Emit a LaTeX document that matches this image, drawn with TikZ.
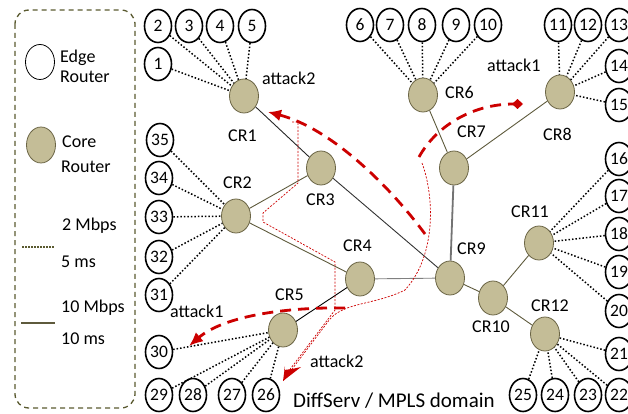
\documentclass[tikz,border=0pt]{standalone}
\usepackage{fontspec}
\setmainfont{Carlito}
\usetikzlibrary{shapes.geometric,arrows.meta}
\definecolor{corefill}{HTML}{C4BD97}
\definecolor{coreline}{HTML}{6B6545}
\definecolor{trunkol}{HTML}{5E5A3C}
\definecolor{legendol}{HTML}{5A5A30}
\definecolor{attackred}{HTML}{CC0000}
\begin{document}
\begin{tikzpicture}[x=1pt,y=-1pt,
  font=\fontsize{18}{21}\selectfont,
  core/.style={ellipse, draw=coreline, line width=0.8pt, fill=corefill,
    minimum width=29pt, minimum height=34pt, inner sep=0pt},
  edger/.style={ellipse, draw=black, line width=1.6pt, fill=white,
    minimum width=27pt, minimum height=33pt, inner sep=0pt,
    font=\fontsize{17.5}{20}\selectfont},
  access/.style={draw=black, line width=1.5pt, dash pattern=on 1.5pt off 2pt},
  trunk/.style={draw=trunkol, line width=0.9pt},
  attack/.style={draw=attackred, line width=2.8pt, dash pattern=on 11pt off 7pt},
  route/.style={draw=attackred, line width=0.7pt, dash pattern=on 2pt off 1.5pt},
  lbl/.style={anchor=base west, inner sep=0pt}]
\useasboundingbox (0,0) rectangle (628,414);

% legend
\draw[legendol, line width=1.3pt, dash pattern=on 5pt off 4pt, rounded corners=14pt]
  (15,10) rectangle (135,408);
\node[ellipse, draw=black, line width=0.8pt, fill=white, minimum width=29pt,
  minimum height=35pt, inner sep=0pt] (legE) at (40,62) {};
\node[lbl] (legE1) at (60,63) {Edge};
\node[lbl] (legE2) at (60,83) {Router};
\node[core, minimum height=36pt] (legC) at (41,145) {};
\node[lbl] (legC1) at (62,147) {Core};
\node[lbl] (legC2) at (61,172) {Router};
\node[lbl] (legA1) at (62,230) {2 Mbps};
\coordinate (dotA) at (22,247);
\coordinate (dotB) at (55,247);
\draw[legendol, line width=1.5pt, dash pattern=on 1.5pt off 1.5pt] (dotA) -- (dotB);
\node[lbl] (legA2) at (61,267) {5 ms};
\node[lbl] (legB1) at (61,312) {10 Mbps};
\coordinate (solA) at (21,323);
\coordinate (solB) at (55,323);
\draw[draw=trunkol, line width=2pt] (solA) -- (solB);
\node[lbl] (legB2) at (61,344) {10 ms};

% edge routers
\foreach \n/\x/\y in {1/158/64, 2/158/26, 3/189/26, 4/220/26, 5/252/26,
  6/360/25, 7/390/25, 8/422/25, 9/456/25, 10/488/25,
  11/558/25, 12/588/25, 13/619/25, 14/619/66, 15/619/105,
  16/619/159, 17/619/196, 18/619/234, 19/619/272, 20/619/311,
  21/619/354, 22/619/395, 23/588/395, 24/555/395, 25/523/395,
  26/266/395, 27/232/395, 28/193/395, 29/159/395, 30/159/352,
  31/159/295, 32/159/257, 33/159/217, 34/159/178, 35/160/140}
  \node[edger] (e\n) at (\x,\y) {\n};

% core routers
\foreach \n/\x/\y in {1/244/96, 2/236/216, 3/321/168, 4/360/279, 5/283/330,
  6/423/95, 7/454/168, 8/560/92, 9/450/278, 10/493/298, 11/539/243, 12/545/334}
  \node[core] (CR\n) at (\x,\y) {};

% access links
\foreach \e in {1,...,5} \draw[access] (e\e) -- (CR1);
\foreach \e in {6,...,10} \draw[access] (e\e) -- (CR6);
\foreach \e in {11,...,15} \draw[access] (e\e) -- (CR8);
\foreach \e in {16,...,20} \draw[access] (e\e) -- (CR11);
\foreach \e in {21,...,25} \draw[access] (e\e) -- (CR12);
\foreach \e in {26,...,30} \draw[access] (e\e) -- (CR5);
\foreach \e in {31,...,35} \draw[access] (e\e) -- (CR2);

% core links
\draw[trunk, draw=black!85] (CR1) -- (CR3);
\draw[trunk] (CR2) -- (CR3);
\draw[trunk] (CR2) -- (CR4);
\draw[trunk, draw=black!80] (CR3) -- (CR9);
\draw[trunk, draw=black!50] (CR4) -- (CR9);
\draw[trunk, draw=black] (CR4) -- (CR5);
\draw[trunk] (CR6) -- (CR7);
\draw[trunk] (CR7) -- (CR8);
\draw[trunk, draw=black!55, line width=1.8pt] (CR7) -- (CR9);
\draw[trunk] (CR9) -- (CR10);
\draw[trunk] (CR10) -- (CR11);
\draw[trunk] (CR10) -- (CR12);

% labels
\node[lbl] (l1) at (228,142) {CR1};
\node[lbl] (l2) at (223,188) {CR2};
\node[lbl] (l3) at (306,205) {CR3};
\node[lbl] (l4) at (343,251) {CR4};
\node[lbl] (l5) at (275,300) {CR5};
\node[lbl] (l6) at (445,99) {CR6};
\node[lbl] (l7) at (457,138) {CR7};
\node[lbl] (l8) at (543,141) {CR8};
\node[lbl] (l9) at (457,254) {CR9};
\node[lbl] (l10) at (472,332) {CR10};
\node[lbl] (l11) at (511,217) {CR11};
\node[lbl] (l12) at (531,311) {CR12};
\node[lbl] (atk2a) at (262,85) {attack2};
\node[lbl] (atk1a) at (487,72) {attack1};
\node[lbl] (atk1b) at (170,317) {attack1};
\node[lbl] (atk2b) at (310,367) {attack2};
\node[lbl, font=\fontsize{21}{24}\selectfont] (dom) at (293,407) {DiffServ / MPLS domain};

% attack2: thin routes
\coordinate (ra0) at (292,122);
\coordinate (ra1) at (298,122);
\coordinate (ra2) at (298,183);
\coordinate (ra3) at (263,213);
\coordinate (ra4) at (263,222);
\coordinate (ra5) at (335,262);
\coordinate (ra6) at (335,310);
\coordinate (ra7) at (288,372);
\draw[route] (ra0) -- (ra1) -- (ra2) -- (ra3) -- (ra4) -- (ra5) -- (ra6) -- (ra7);
\coordinate (rb0) at (422,163);
\coordinate (rb1) at (405,290);
\coordinate (rb2) at (330,319);
\coordinate (rb3) at (283,381);
\draw[route] (rb0) .. controls (434,195) and (437,255) .. (rb1)
  .. controls (375,305) and (345,302) .. (rb2) -- (rb3);
\coordinate (rb2b) at (292,369);
\fill[attackred] (rb3) -- ++(2,-15) -- ++(-1,4) -- (rb2b) -- ++(9,-2) -- cycle;

% attack2: main path toward CR1
\coordinate (pa0) at (425,234);
\coordinate (pa1) at (268,112);
\draw[attack, -{Latex[length=13pt,width=12pt]}] (pa0) .. controls (388,184) and (330,128) .. (pa1);

% attack1: upper and lower paths
\coordinate (pb0) at (419,157);
\coordinate (pb1) at (523,104);
\draw[attack, -{Diamond[length=11pt,width=10pt]}] (pb0) .. controls (435,128) and (470,104) .. (pb1);
\coordinate (pc0) at (345,308);
\coordinate (pc1) at (189,346);
\draw[attack, -{Latex[length=14pt,width=12pt]}] (pc0) .. controls (290,307) and (225,315) .. (pc1);
\end{tikzpicture}
\end{document}
